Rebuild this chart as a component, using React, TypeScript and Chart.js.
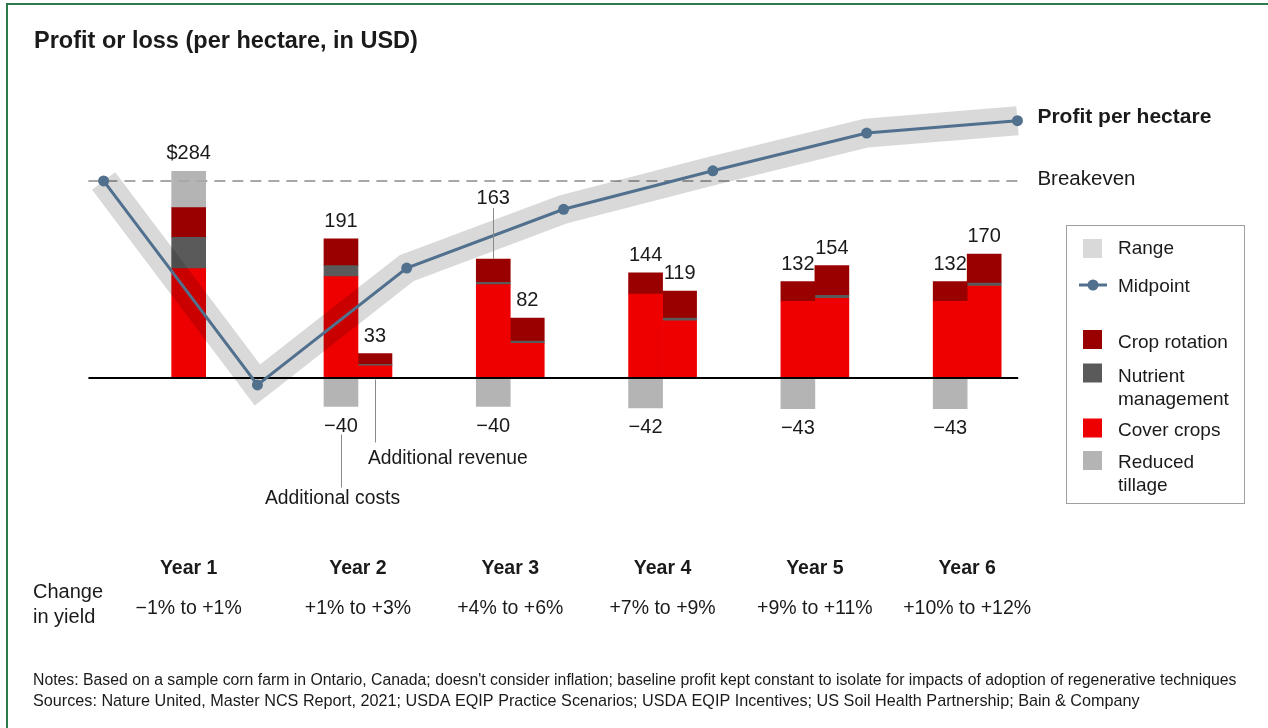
import React, { useEffect, useRef } from 'react';
import { Chart, registerables } from 'chart.js';

Chart.register(...registerables);

// ---------------- data ----------------
const years = ['Year 1', 'Year 2', 'Year 3', 'Year 4', 'Year 5', 'Year 6'];
const yieldChange = ['−1% to +1%', '+1% to +3%', '+4% to +6%', '+7% to +9%', '+9% to +11%', '+10% to +12%'];
const yearPositions = [1, 2, 3, 4, 5, 6];

// first bar of each year (stack A)
const coverCropsA = [150, 139, 128, 115, 105, 105];
const nutrientA = [43, 15, 3, null, null, null];
const rotationA = [41, 37, 32, 29, 27, 27];
const tillageA = [50, -40, -40, -42, -43, -43];
// second bar of each year (stack B, additional revenue)
const coverCropsB = [null, 16, 47, 78, 109, 126];
const nutrientB = [null, 2, 3, 4, 4, 4];
const rotationB = [null, 15, 32, 37, 41, 40];

// profit per hectare relative to breakeven (midpoint of range)
const profitPositions = [0.33, 1.34, 2.32, 3.35, 4.33, 5.34, 6.33];
const profitMidpoint = [0, -281, -120, -39, 14, 66, 83];

const legendLabels = ['Range', 'Midpoint', 'Crop rotation', 'Nutrient management', 'Cover crops', 'Reduced tillage'];
const titleText = 'Profit or loss (per hectare, in USD)';
const notesText = "Notes: Based on a sample corn farm in Ontario, Canada; doesn't consider inflation; baseline profit kept constant to isolate for impacts of adoption of regenerative techniques";
const sourcesText = 'Sources: Nature United, Master NCS Report, 2021; USDA EQIP Practice Scenarios; USDA EQIP Incentives; US Soil Health Partnership; Bain & Company';

// ---------------- styles ----------------
const FONT = '"Liberation Sans", Arial, Helvetica, sans-serif';
const C = {
  rotation: '#990000',
  nutrient: '#5a5a5a',
  cover: '#ee0000',
  tillage: '#b4b4b4',
  range: '#d9d9d9',
  midpoint: '#50708e',
  text: '#1a1a1a',
  leader: '#8a8a8a',
  border: '#2b7a4b',
};

const Y_MIN = -200;
const Y_MAX = 380;
const BREAKEVEN_LEVEL = 270.7; // breakeven expressed on bar axis units
const BAND_INDEX = 7;

const pts = (ys: (number | null)[]) => ys.map((y, i) => ({ x: yearPositions[i], y }));

function text(ctx: CanvasRenderingContext2D, s: string, x: number, y: number, font: string, align: CanvasTextAlign = 'left', color = C.text) {
  ctx.font = font;
  ctx.textAlign = align;
  ctx.textBaseline = 'alphabetic';
  ctx.fillStyle = color;
  ctx.fillText(s, x, y);
}

function vline(ctx: CanvasRenderingContext2D, x: number, y1: number, y2: number, color = C.leader, w = 1) {
  ctx.save();
  ctx.strokeStyle = color;
  ctx.lineWidth = w;
  ctx.beginPath();
  const xx = Math.round(x) + 0.5;
  ctx.moveTo(xx, y1);
  ctx.lineTo(xx, y2);
  ctx.stroke();
  ctx.restore();
}

const overlayPlugin = {
  id: 'overlay',
  beforeDraw(chart: any) {
    const ctx = chart.ctx as CanvasRenderingContext2D;
    ctx.save();
    ctx.fillStyle = '#ffffff';
    ctx.fillRect(0, 0, chart.width, chart.height);
    // frame
    ctx.fillStyle = C.border;
    ctx.fillRect(6, 3, 2, chart.height - 3);
    ctx.fillRect(6, 3, chart.width - 6, 2);
    ctx.restore();
  },
  beforeDatasetDraw(chart: any, args: any) {
    if (args.index !== BAND_INDEX) return;
    const ctx = chart.ctx as CanvasRenderingContext2D;
    const { left, right } = chart.chartArea;
    const y0 = chart.scales.y.getPixelForValue(0);
    const yb = chart.scales.yP.getPixelForValue(0);
    ctx.save();
    // breakeven
    ctx.strokeStyle = '#a8a8a8';
    ctx.lineWidth = 2;
    ctx.setLineDash([11, 7]);
    ctx.beginPath();
    ctx.moveTo(left, yb);
    ctx.lineTo(right, yb);
    ctx.stroke();
    ctx.setLineDash([]);
    // zero baseline
    ctx.strokeStyle = '#000000';
    ctx.lineWidth = 2;
    ctx.beginPath();
    ctx.moveTo(left, y0 + 0.5);
    ctx.lineTo(right, y0 + 0.5);
    ctx.stroke();
    ctx.restore();
    ctx.save();
    ctx.globalCompositeOperation = 'multiply';
  },
  afterDatasetDraw(chart: any, args: any) {
    if (args.index !== BAND_INDEX) return;
    chart.ctx.restore();
  },
  afterDraw(chart: any) {
    const ctx = chart.ctx as CanvasRenderingContext2D;
    const ys = chart.scales.y;
    const yP = chart.scales.yP;
    const metaA = chart.getDatasetMeta(0).data;
    const metaB = chart.getDatasetMeta(4).data;
    const labelFont = `20px ${FONT}`;

    ctx.save();
    text(ctx, titleText, 34, 48, `bold 23.5px ${FONT}`);

    // value labels
    years.forEach((_, i) => {
      const totA = [coverCropsA[i], nutrientA[i], rotationA[i], tillageA[i]].reduce((s: number, v) => s + (v && v > 0 ? v : 0), 0);
      const xa = metaA[i].x;
      const topA = ys.getPixelForValue(totA);
      const labA = i === 0 ? `$${totA}` : `${totA}`;
      if (i === 2) {
        // raised label with leader line
        vline(ctx, xa, topA - 51, topA);
        text(ctx, labA, xa, topA - 55, labelFont, 'center');
      } else {
        text(ctx, labA, xa, topA - 12, labelFont, 'center');
      }
      const neg = tillageA[i];
      if (neg !== null && neg < 0) {
        const bot = ys.getPixelForValue(neg);
        text(ctx, `−${Math.abs(neg)}`, xa, bot + 25.5, labelFont, 'center');
      }
      if (coverCropsB[i] !== null) {
        const totB = [coverCropsB[i], nutrientB[i], rotationB[i]].reduce((s: number, v) => s + (v ? v : 0), 0);
        const xb = metaB[i].x;
        text(ctx, `${totB}`, xb, ys.getPixelForValue(totB) - 12, labelFont, 'center');
      }
    });

    // annotations (year 2)
    const y0 = ys.getPixelForValue(0);
    const xa2 = metaA[1].x;
    const xb2 = metaB[1].x;
    vline(ctx, xb2, y0 + 2, y0 + 65);
    text(ctx, 'Additional revenue', xb2 - 7, y0 + 87, `19.3px ${FONT}`);
    vline(ctx, xa2, y0 + 57, y0 + 110);
    text(ctx, 'Additional costs', xa2 - 76, y0 + 127, `19.3px ${FONT}`);

    // line labels
    const lastX = chart.scales.x.getPixelForValue(profitPositions[profitPositions.length - 1]);
    const lastY = yP.getPixelForValue(profitMidpoint[profitMidpoint.length - 1]);
    text(ctx, 'Profit per hectare', lastX + 20, lastY + 2.5, `bold 21px ${FONT}`);
    text(ctx, 'Breakeven', lastX + 20, yP.getPixelForValue(0) + 4.5, `20.5px ${FONT}`);

    // year and yield labels
    years.forEach((yr, i) => {
      const cx = i === 0 ? metaA[0].x : chart.scales.x.getPixelForValue(yearPositions[i]);
      text(ctx, yr, cx, 574, `bold 19.5px ${FONT}`, 'center');
      text(ctx, yieldChange[i], cx, 614, `19.5px ${FONT}`, 'center');
    });
    text(ctx, 'Change', 33, 598, `20px ${FONT}`);
    text(ctx, 'in yield', 33, 623, `20px ${FONT}`);

    // legend
    ctx.strokeStyle = '#a0a0a0';
    ctx.lineWidth = 1;
    ctx.strokeRect(1066.5, 225.5, 178, 278);
    const sqX = 1083;
    const tx = 1118;
    const lf = `19px ${FONT}`;
    ctx.fillStyle = C.range;
    ctx.fillRect(sqX, 239, 19, 19);
    text(ctx, legendLabels[0], tx, 254, lf);
    ctx.strokeStyle = C.midpoint;
    ctx.lineWidth = 3;
    ctx.beginPath();
    ctx.moveTo(1079, 285);
    ctx.lineTo(1107, 285);
    ctx.stroke();
    ctx.fillStyle = C.midpoint;
    ctx.beginPath();
    ctx.arc(1093, 285, 5.5, 0, Math.PI * 2);
    ctx.fill();
    text(ctx, legendLabels[1], tx, 291.5, lf);
    ctx.fillStyle = C.rotation;
    ctx.fillRect(sqX, 330, 19, 19);
    text(ctx, legendLabels[2], tx, 348, lf);
    ctx.fillStyle = C.nutrient;
    ctx.fillRect(sqX, 363.5, 19, 19);
    const nm = legendLabels[3].split(' ');
    text(ctx, nm[0], tx, 382, lf);
    text(ctx, nm[1], tx, 405, lf);
    ctx.fillStyle = C.cover;
    ctx.fillRect(sqX, 418.5, 19, 19);
    text(ctx, legendLabels[4], tx, 436, lf);
    ctx.fillStyle = C.tillage;
    ctx.fillRect(sqX, 451, 19, 19);
    const rt = legendLabels[5].split(' ');
    text(ctx, rt[0], tx, 468, lf);
    text(ctx, rt[1], tx, 491, lf);

    // notes
    text(ctx, notesText, 33, 684.5, `15.8px ${FONT}`);
    text(ctx, sourcesText, 33, 705.5, `16.2px ${FONT}`);
    ctx.restore();
  },
};

export default function App() {
  const ref = useRef<HTMLCanvasElement | null>(null);
  useEffect(() => {
    document.body.style.margin = '0';
    document.body.style.overflow = 'hidden';
    const canvas = ref.current!;
    const barCommon = { type: 'bar' as const, barThickness: 34, borderWidth: 0, order: 10, yAxisID: 'y' };
    const chart = new Chart(canvas, {
      type: 'bar',
      data: {
        datasets: [
          { ...barCommon, label: 'Cover crops', stack: 'A', data: pts(coverCropsA), backgroundColor: C.cover },
          { ...barCommon, label: 'Nutrient management', stack: 'A', data: pts(nutrientA), backgroundColor: C.nutrient },
          { ...barCommon, label: 'Crop rotation', stack: 'A', data: pts(rotationA), backgroundColor: C.rotation },
          { ...barCommon, label: 'Reduced tillage', stack: 'A', data: pts(tillageA), backgroundColor: C.tillage },
          { ...barCommon, label: 'Cover crops', stack: 'B', data: pts(coverCropsB), backgroundColor: C.cover },
          { ...barCommon, label: 'Nutrient management', stack: 'B', data: pts(nutrientB), backgroundColor: C.nutrient },
          { ...barCommon, label: 'Crop rotation', stack: 'B', data: pts(rotationB), backgroundColor: C.rotation },
          {
            type: 'line', label: 'Range', yAxisID: 'yP', order: 1, clip: false as any,
            data: profitPositions.map((x, i) => ({ x, y: profitMidpoint[i] })),
            borderColor: C.range, borderWidth: 29, borderJoinStyle: 'miter', borderCapStyle: 'butt',
            pointRadius: 0, tension: 0, fill: false,
          } as any,
          {
            type: 'line', label: 'Midpoint', yAxisID: 'yP', order: 0, clip: false as any,
            data: profitPositions.map((x, i) => ({ x, y: profitMidpoint[i] })),
            borderColor: C.midpoint, borderWidth: 3, pointRadius: 5.5, pointBackgroundColor: C.midpoint,
            pointBorderWidth: 0, pointHoverRadius: 5.5, tension: 0, fill: false,
          } as any,
        ],
      },
      options: {
        animation: false,
        responsive: false,
        devicePixelRatio: 1,
        events: [],
        layout: { padding: { left: 88.4, right: 249.8, top: 101.6, bottom: 205.3 } },
        plugins: { legend: { display: false }, tooltip: { enabled: false }, title: { display: false } },
        scales: {
          x: { type: 'linear', min: 0.23, max: 6.335, display: false, offset: false, grid: { display: false } },
          y: { type: 'linear', stacked: true, min: Y_MIN, max: Y_MAX, display: false },
          yP: { type: 'linear', min: Y_MIN - BREAKEVEN_LEVEL, max: Y_MAX - BREAKEVEN_LEVEL, display: false },
        },
      } as any,
      plugins: [overlayPlugin],
    });
    return () => chart.destroy();
  }, []);
  return (
    <canvas
      ref={ref}
      width={1268}
      height={728}
      style={{ position: 'absolute', left: 0, top: 0, width: 1268, height: 728, display: 'block' }}
    />
  );
}
